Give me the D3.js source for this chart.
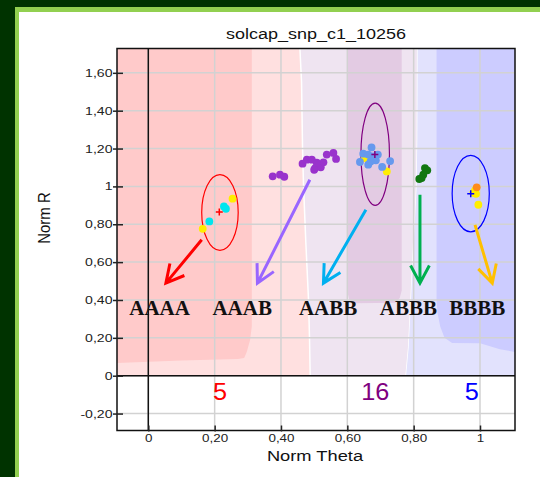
<!DOCTYPE html>
<html>
<head>
<meta charset="utf-8">
<script src="https://cdn.jsdelivr.net/npm/d3@7"></script>
<style>
  body { margin: 0; background: #003300; }
  svg { display: block; }
</style>
</head>
<body>
<svg width="540" height="477"></svg>
<script>
// axis ticks
const xTicks = [0, 0.2, 0.4, 0.6, 0.8, 1];
const xTickLabels = ["0", "0,20", "0,40", "0,60", "0,80", "1"];
const yTicks = [-0.2, 0, 0.2, 0.4, 0.6, 0.8, 1, 1.2, 1.4, 1.6];
const yTickLabels = ["-0,20", "0", "0,20", "0,40", "0,60", "0,80", "1", "1,20", "1,40", "1,60"];

// samples (norm theta, norm R, set)
const samplesAAAA = [
  {t: 0.228, r: 0.894, s: "main"}, {t: 0.234, r: 0.882, s: "main"}, {t: 0.184, r: 0.815, s: "main"},
  {t: 0.254, r: 0.935, s: "ctrl"}, {t: 0.164, r: 0.776, s: "ctrl"}
];
const samplesAAAB = [
  {t: 0.375, r: 1.053}, {t: 0.397, r: 1.062}, {t: 0.410, r: 1.051}, {t: 0.465, r: 1.120},
  {t: 0.478, r: 1.141}, {t: 0.493, r: 1.141}, {t: 0.503, r: 1.097}, {t: 0.513, r: 1.115},
  {t: 0.520, r: 1.101}, {t: 0.528, r: 1.127}, {t: 0.538, r: 1.168}, {t: 0.558, r: 1.177},
  {t: 0.566, r: 1.145}, {t: 0.500, r: 1.088}, {t: 0.508, r: 1.125}
].map(d => ({...d, s: "main"}));
const samplesAABB = [
  {t: 0.653, r: 1.150, s: "ctrl"}, {t: 0.719, r: 1.079, s: "ctrl"},
  {t: 0.673, r: 1.206, s: "main"}, {t: 0.648, r: 1.173, s: "main"}, {t: 0.638, r: 1.129, s: "main"},
  {t: 0.663, r: 1.115, s: "main"}, {t: 0.686, r: 1.138, s: "main"}, {t: 0.705, r: 1.103, s: "main"},
  {t: 0.729, r: 1.134, s: "main"}, {t: 0.678, r: 1.159, s: "main"}, {t: 0.663, r: 1.168, s: "main"},
  {t: 0.692, r: 1.168, s: "main"}, {t: 0.670, r: 1.132, s: "main"}
];
const samplesABBB = [
  {t: 0.834, r: 1.097}, {t: 0.841, r: 1.085}, {t: 0.829, r: 1.062}, {t: 0.824, r: 1.044}, {t: 0.817, r: 1.039}
].map(d => ({...d, s: "main"}));
const samplesBBBB = [
  {t: 0.995, r: 0.903, s: "ctrl"}, {t: 0.988, r: 0.961, s: "ctrl"}, {t: 0.980, r: 0.966, s: "ctrl"},
  {t: 0.985, r: 0.979, s: "ctrl"}, {t: 0.990, r: 0.995, s: "par"}
];

// cluster means and ellipses
const clusterMeans = [
  {g: "AAAA", t: 0.214, r: 0.865}, {g: "AABB", t: 0.683, r: 1.168}, {g: "BBBB", t: 0.972, r: 0.961}
];
const clusterEllipses = [
  {g: "AAAA", t: 0.216, r: 0.862, rt: 0.055, rr: 0.200},
  {g: "AABB", t: 0.684, r: 1.170, rt: 0.043, rr: 0.270},
  {g: "BBBB", t: 0.972, r: 0.962, rt: 0.056, rr: 0.202}
];

// arrows from cluster to genotype label
const arrows = [
  {g: "AAAA", from: [0.161, 0.718], to: [0.053, 0.489]},
  {g: "AAAB", from: [0.487, 1.035], to: [0.329, 0.489]},
  {g: "AABB", from: [0.656, 0.877], to: [0.528, 0.489]},
  {g: "ABBB", from: [0.819, 0.956], to: [0.819, 0.489]},
  {g: "BBBB", from: [0.985, 0.797], to: [1.037, 0.489]}
];
const genotypes = ["AAAA", "AAAB", "AABB", "ABBB", "BBBB"];
const genotypeTheta = [0.034, 0.283, 0.542, 0.784, 0.992];
const genotypeLabelR = 0.321;

const counts = [{g: "AAAA", t: 0.216, n: "5"}, {g: "AABB", t: 0.684, n: "16"}, {g: "BBBB", t: 0.975, n: "5"}];
const countR = -0.129;

const xMin = -0.0944, xMax = 1.1055, yMin = -0.2895, yMax = 1.7285;

// call regions (polygons in theta / R)
const regionLightPink = [[xMin, yMax], [0.457, yMax], [0.462, 1.55], [0.465, 1.2], [0.468, 1.0], [0.475, 0.7], [0.483, 0.4], [0.486, 0.2], [0.488, 0], [xMin, 0]];
const regionPink = [[xMin, yMax], [0.312, yMax], [0.312, 0.26], [0.307, 0.19], [0.297, 0.127], [0.289, 0.094], [0.27, 0.088], [0.1, 0.08], [xMin, 0.067]];
const regionLavender = [[0.457, yMax], [0.812, yMax], [0.811, 1.25], [0.809, 1.0], [0.80, 0.7], [0.792, 0.4], [0.785, 0.15], [0.777, 0], [0.488, 0], [0.486, 0.2], [0.483, 0.4], [0.475, 0.7], [0.468, 1.0], [0.465, 1.2], [0.462, 1.55]];
const regionPurple = [[0.602, yMax], [0.764, yMax], [0.764, 0.45], [0.758, 0.41], [0.745, 0.385], [0.623, 0.383], [0.606, 0.40], [0.602, 0.43]];
const regionLightBlue = [[0.812, yMax], [xMax, yMax], [xMax, 0], [0.777, 0], [0.785, 0.15], [0.792, 0.4], [0.80, 0.7], [0.809, 1.0], [0.811, 1.25]];
const regionBlue = [[0.869, yMax], [xMax, yMax], [xMax, 0.125], [1.06, 0.14], [1.0, 0.171], [0.916, 0.173], [0.893, 0.2], [0.88, 0.26], [0.872, 0.33], [0.869, 0.4]];

const genoColor = {AAAA: "#ff0000", AAAB: "#9933cc", AABB: "#800080", ABBB: "#117711", BBBB: "#0000ff"};
const arrowColor = {AAAA: "#ff0000", AAAB: "#9966ff", AABB: "#00b0f0", ABBB: "#00b050", BBBB: "#ffc000"};

const svg = d3.select("svg");

// panel frame
svg.append("rect").attr("x", 15).attr("y", 7).attr("width", 540).attr("height", 480).attr("fill", "#92d050");
svg.append("rect").attr("x", 19).attr("y", 12).attr("width", 540).attr("height", 480).attr("fill", "#ffffff");

const x = d3.scaleLinear().domain([xMin, xMax]).range([117, 515]);
const y = d3.scaleLinear().domain([yMin, yMax]).range([430.5, 48.5]);

svg.append("clipPath").attr("id", "plotclip")
  .append("rect").attr("x", 117).attr("y", 48.5).attr("width", 398).attr("height", 382);

const plot = svg.append("g").attr("clip-path", "url(#plotclip)");
plot.append("rect").attr("x", 117).attr("y", 48.5).attr("width", 398).attr("height", 382).attr("fill", "#fff");

const poly = d3.line().x(d => x(d[0])).y(d => y(d[1]));
const regions = [
  [regionLightPink, "#ffe0e0", "none"],
  [regionPink, "#ffcaca", "none"],
  [regionLavender, "#efe4f1", "#ffffff"],
  [regionPurple, "#e3cbe3", "none"],
  [regionLightBlue, "#e2e2fd", "none"],
  [regionBlue, "#ccccff", "none"]
];
regions.forEach(function(rg) {
  plot.append("path").attr("d", poly(rg[0]) + "Z")
    .attr("fill", rg[1]).attr("stroke", rg[2]).attr("stroke-width", 1.5);
});

// grid
plot.selectAll(".vgrid").data(xTicks).enter().append("line")
  .attr("x1", d => x(d)).attr("x2", d => x(d)).attr("y1", 48).attr("y2", 431)
  .attr("stroke", "#d2d2d2").attr("stroke-width", 1.5);
plot.selectAll(".hgrid").data(yTicks).enter().append("line")
  .attr("x1", 117).attr("x2", 515).attr("y1", d => y(d)).attr("y2", d => y(d))
  .attr("stroke", "#d2d2d2").attr("stroke-width", 1.5);
plot.append("line").attr("x1", x(0)).attr("x2", x(0)).attr("y1", 48).attr("y2", 431)
  .attr("stroke", "#111").attr("stroke-width", 1.5);
plot.append("line").attr("x1", 117).attr("x2", 515).attr("y1", y(0)).attr("y2", y(0))
  .attr("stroke", "#111").attr("stroke-width", 1.5);

// ellipses
plot.selectAll(".ell").data(clusterEllipses).enter().append("ellipse")
  .attr("cx", d => x(d.t)).attr("cy", d => y(d.r))
  .attr("rx", d => x(d.t + d.rt) - x(d.t)).attr("ry", d => y(d.r) - y(d.r + d.rr))
  .attr("fill", "none").attr("stroke", d => genoColor[d.g]).attr("stroke-width", 1.2);

// points
const setColor = {
  AAAA: {main: "#00e5ee", ctrl: "#ffee00"},
  AAAB: {main: "#9933cc"},
  AABB: {main: "#6699ee", ctrl: "#ffee00"},
  ABBB: {main: "#117711"},
  BBBB: {ctrl: "#ffee00", par: "#ff8c1a"}
};
const allSamples = [["AAAA", samplesAAAA], ["AAAB", samplesAAAB], ["AABB", samplesAABB], ["ABBB", samplesABBB], ["BBBB", samplesBBBB]];
allSamples.forEach(function(c) {
  plot.selectAll(".pt-" + c[0]).data(c[1]).enter().append("circle")
    .attr("cx", d => x(d.t)).attr("cy", d => y(d.r)).attr("r", 3.9)
    .attr("fill", d => setColor[c[0]][d.s]);
});

// means
clusterMeans.forEach(function(m) {
  const cx = x(m.t), cy = y(m.r);
  plot.append("path").attr("d", `M${cx - 3.5},${cy}H${cx + 3.5}M${cx},${cy - 3.5}V${cy + 3.5}`)
    .attr("stroke", genoColor[m.g]).attr("stroke-width", 1.5);
});

// arrows
arrows.forEach(function(a) {
  const x0 = x(a.from[0]), y0 = y(a.from[1]), x1 = x(a.to[0]), y1 = y(a.to[1]);
  const ang = Math.atan2(y0 - y1, x0 - x1), L = 20, w = 28 * Math.PI / 180;
  const p1 = [x1 + L * Math.cos(ang + w), y1 + L * Math.sin(ang + w)];
  const p2 = [x1 + L * Math.cos(ang - w), y1 + L * Math.sin(ang - w)];
  plot.append("path")
    .attr("d", `M${x0},${y0}L${x1},${y1}M${p1[0]},${p1[1]}L${x1},${y1}L${p2[0]},${p2[1]}`)
    .attr("fill", "none").attr("stroke", arrowColor[a.g]).attr("stroke-width", 3);
});

// genotype labels
plot.selectAll(".geno").data(genotypes).enter().append("text")
  .attr("x", (d, i) => x(genotypeTheta[i])).attr("y", y(genotypeLabelR))
  .attr("text-anchor", "middle")
  .style("font-family", "'Liberation Serif', 'Times New Roman', serif")
  .style("font-weight", "bold").style("font-size", "21px").attr("fill", "#111")
  .text(d => d);

// counts
plot.selectAll(".count").data(counts).enter().append("text")
  .attr("transform", d => `translate(${x(d.t)},${y(countR)}) scale(1.1,1)`)
  .attr("text-anchor", "middle")
  .style("font-family", "'Liberation Sans', Arial, sans-serif").style("font-size", "23px")
  .attr("fill", d => genoColor[d.g]).text(d => d.n);

// frame
svg.append("rect").attr("x", 117).attr("y", 48.5).attr("width", 398).attr("height", 382)
  .attr("fill", "none").attr("stroke", "#111").attr("stroke-width", 1.5);

// axes
const font = "'Liberation Sans', Arial, sans-serif";
const yAxis = svg.append("g").attr("transform", "translate(117,0)")
  .call(d3.axisLeft(y).tickValues(yTicks).tickFormat((d, i) => yTickLabels[i]).tickSizeOuter(0).tickSizeInner(4));
yAxis.select(".domain").remove();
yAxis.selectAll(".tick line").attr("x1", -4).attr("x2", 6).attr("stroke", "#222").attr("stroke-width", 1.5);
yAxis.selectAll(".tick text").attr("x", -4.5 / 1.28).attr("transform", "scale(1.28,1)")
  .style("font-family", font).style("font-size", "11px").attr("fill", "#222");

const xAxis = svg.append("g").attr("transform", "translate(0,430.5)")
  .call(d3.axisBottom(x).tickValues(xTicks).tickFormat((d, i) => xTickLabels[i]).tickSizeOuter(0).tickSizeInner(2));
xAxis.select(".domain").remove();
xAxis.selectAll(".tick line").attr("y1", -5).attr("y2", 1).attr("stroke", "#222").attr("stroke-width", 1.5);
xAxis.selectAll(".tick text").attr("y", 4).attr("transform", "scale(1.22,1)")
  .style("font-family", font).style("font-size", "11px").attr("fill", "#222");

// title and axis labels
svg.append("text").attr("transform", "translate(316,39) scale(1.2,1)")
  .attr("text-anchor", "middle").style("font-family", font).style("font-size", "15px")
  .attr("fill", "#111").text("solcap_snp_c1_10256");
svg.append("text").attr("transform", "translate(315,461) scale(1.22,1)")
  .attr("text-anchor", "middle").style("font-family", font).style("font-size", "15px")
  .attr("fill", "#111").text("Norm Theta");
svg.append("text").attr("transform", "translate(50,218) rotate(-90) scale(1,1.15)")
  .attr("text-anchor", "middle").style("font-family", font).style("font-size", "15px")
  .attr("fill", "#111").text("Norm R");
</script>
</body>
</html>
